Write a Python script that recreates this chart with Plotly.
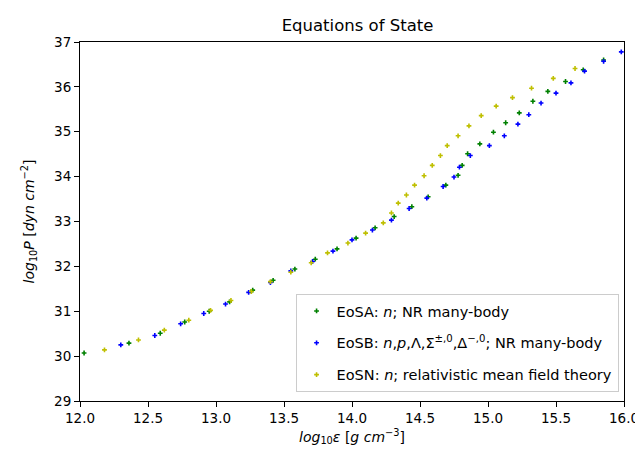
import plotly.graph_objects as go

# EoSA (green)
eosa_x = [12.03, 12.36, 12.59, 12.77, 12.95, 13.10, 13.27, 13.42, 13.58, 13.73, 13.89, 14.03, 14.17,
          14.31, 14.44, 14.56, 14.69, 14.78, 14.81, 14.85, 14.94, 15.04, 15.13, 15.23, 15.33, 15.44,
          15.57, 15.70, 15.85]
eosa_y = [30.07, 30.29, 30.51, 30.76, 31.00, 31.21, 31.47, 31.69, 31.94, 32.16, 32.39, 32.63, 32.86,
          33.11, 33.33, 33.55, 33.81, 34.03, 34.25, 34.51, 34.73, 34.99, 35.20, 35.42, 35.68, 35.90,
          36.12, 36.38, 36.60]

# EoSB (blue)
eosb_x = [12.30, 12.55, 12.74, 12.91, 13.07, 13.24, 13.40, 13.55, 13.71, 13.86, 14.00, 14.15, 14.29,
          14.42, 14.55, 14.67, 14.75, 14.79, 14.87, 15.01, 15.12, 15.22, 15.30, 15.39, 15.50, 15.61,
          15.71, 15.85, 15.98]
eosb_y = [30.25, 30.46, 30.72, 30.95, 31.16, 31.42, 31.64, 31.90, 32.11, 32.34, 32.59, 32.81, 33.03,
          33.29, 33.52, 33.78, 33.99, 34.21, 34.47, 34.69, 34.91, 35.17, 35.38, 35.64, 35.86, 36.09,
          36.35, 36.57, 36.78]

# EoSN (yellow)
eosn_x = [12.18, 12.43, 12.62, 12.80, 12.96, 13.11, 13.26, 13.40, 13.55, 13.70, 13.82, 13.97, 14.10,
          14.23, 14.29, 14.34, 14.40, 14.46, 14.53, 14.59, 14.65, 14.70, 14.78, 14.86, 14.95, 15.06,
          15.18, 15.32, 15.48, 15.64]
eosn_y = [30.14, 30.36, 30.58, 30.80, 31.02, 31.24, 31.44, 31.66, 31.87, 32.08, 32.30, 32.52, 32.74,
          32.97, 33.19, 33.41, 33.59, 33.81, 34.02, 34.25, 34.47, 34.69, 34.91, 35.13, 35.36, 35.57,
          35.76, 35.97, 36.19, 36.41]

series_names = [
    "EoSA: <i>n</i>; NR many-body",
    "EoSB: <i>n</i>,<i>p</i>,Λ,Σ<sup>±,0</sup>,Δ<sup>−,0</sup>; NR many-body",
    "EoSN: <i>n</i>; relativistic mean field theory",
]
series_colors = ["#008000", "#0000ff", "#bfbf00"]

x_ticks = [12.0, 12.5, 13.0, 13.5, 14.0, 14.5, 15.0, 15.5, 16.0]
y_ticks = [29, 30, 31, 32, 33, 34, 35, 36, 37]

fig = go.Figure()
for i, (xs, ys) in enumerate([(eosa_x, eosa_y), (eosb_x, eosb_y), (eosn_x, eosn_y)]):
    fig.add_trace(go.Scatter(
        x=xs, y=ys, mode="markers", name=series_names[i], legendgroup=f"g{i}",
        marker=dict(symbol="cross", size=4, color=series_colors[i], line=dict(width=0)),
    ))

font_family = "DejaVu Sans"
axis_common = dict(
    showgrid=False, zeroline=False, showline=True, linecolor="black", linewidth=1,
    mirror=True, ticks="outside", ticklen=5, tickcolor="black", tickwidth=1,
    tickfont=dict(family=font_family, size=13.5, color="black"),
)

fig.update_layout(
    width=643, height=450,
    margin=dict(l=72, r=16, t=34, b=57),
    paper_bgcolor="white", plot_bgcolor="white",
    font=dict(family=font_family, color="black"),
    title=dict(text="Equations of State", x=(72 + 627) / 2 / 643, xanchor="center",
               y=1 - 17 / 450, yanchor="middle", yref="container",
               font=dict(family=font_family, size=16.5, color="black")),
    xaxis=dict(range=[12, 16], tickvals=x_ticks, tickformat=".1f",
               title=dict(text="<i>log</i><sub>10</sub><i>ε</i> [<i>g cm</i><sup>−3</sup>]",
                          font=dict(family=font_family, size=14), standoff=6),
               **axis_common),
    yaxis=dict(range=[29, 37], tickvals=y_ticks,
               title=dict(text="<i>log</i><sub>10</sub><i>P</i> [<i>dyn cm</i><sup>−2</sup>]",
                          font=dict(family=font_family, size=14), standoff=16),
               **axis_common),
    legend=dict(x=0.99, y=0.025, xanchor="right", yanchor="bottom",
                bgcolor="rgba(255,255,255,0.8)", bordercolor="#cccccc", borderwidth=1,
                font=dict(family=font_family, size=14.5), tracegroupgap=10,
                itemsizing="trace"),
    showlegend=True,
)

fig.write_html("out.html")
